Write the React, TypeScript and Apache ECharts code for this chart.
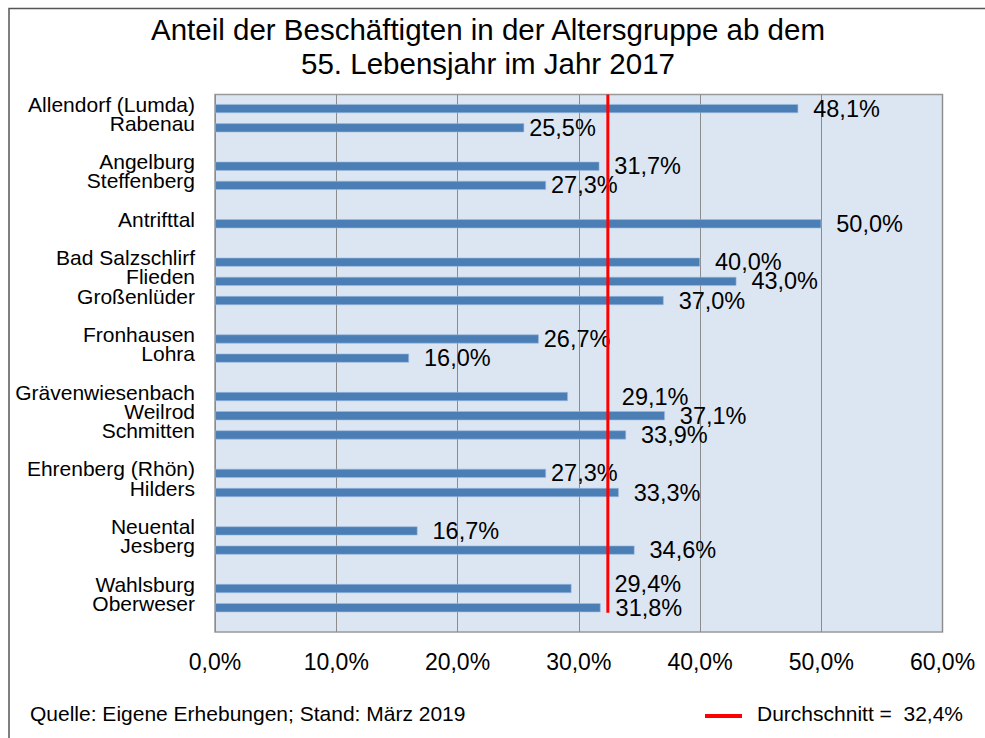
import React, { useEffect, useRef } from "react";
import * as echarts from "echarts";

const TITLE = "Anteil der Beschäftigten in der Altersgruppe ab dem\n55. Lebensjahr im Jahr 2017";
const SOURCE = "Quelle: Eigene Erhebungen; Stand: März 2019";

// "" marks an empty spacer row between groups
const categories: string[] = [
  "Allendorf (Lumda)", "Rabenau", "",
  "Angelburg", "Steffenberg", "",
  "Antrifttal", "",
  "Bad Salzschlirf", "Flieden", "Großenlüder", "",
  "Fronhausen", "Lohra", "",
  "Grävenwiesenbach", "Weilrod", "Schmitten", "",
  "Ehrenberg (Rhön)", "Hilders", "",
  "Neuental", "Jesberg", "",
  "Wahlsburg", "Oberweser", "",
];

const shares: (number | null)[] = [
  48.1, 25.5, null,
  31.7, 27.3, null,
  50.0, null,
  40.0, 43.0, 37.0, null,
  26.7, 16.0, null,
  29.1, 37.1, 33.9, null,
  27.3, 33.3, null,
  16.7, 34.6, null,
  29.4, 31.8, null,
];

const average = 32.4;
const xTicks = { min: 0, max: 60, interval: 10 };

// label placement tweaks (style only)
const labelTweaks: Record<string, { distance: number; offset?: number[] }> = {
  Rabenau: { distance: 5 },
  Steffenberg: { distance: 5 },
  Fronhausen: { distance: 5 },
  "Ehrenberg (Rhön)": { distance: 5 },
  Grävenwiesenbach: { distance: 54 },
  Wahlsburg: { distance: 43, offset: [0, -5] },
};

const FONT = "'Liberation Sans', Arial, sans-serif";
const fmt = (v: number) => v.toFixed(1).replace(".", ",") + "%";

export default function App() {
  const ref = useRef<HTMLDivElement>(null);
  useEffect(() => {
    if (!ref.current) return;
    const chart = echarts.init(ref.current, null, { renderer: "svg" });
    const barData = shares.map((v, i) => {
      if (v === null) return "-";
      const t = labelTweaks[categories[i]];
      return t ? { value: v, label: { ...t } } : { value: v };
    });
    const lastIdx = shares.length - 1;
    chart.setOption({
      animation: false,
      backgroundColor: "#ffffff",
      textStyle: { fontFamily: FONT },
      title: {
        text: TITLE,
        left: 483,
        textAlign: "center",
        top: 7,
        textStyle: { fontSize: 29.5, fontWeight: "normal", color: "#000", lineHeight: 34, fontFamily: FONT },
      },
      grid: {
        left: 215,
        top: 94.5,
        right: 42.5,
        bottom: 106,
        show: true,
        backgroundColor: "#dce6f2",
        borderColor: "#999999",
        borderWidth: 1.5,
        containLabel: false,
      },
      xAxis: {
        type: "value",
        min: xTicks.min,
        max: xTicks.max,
        interval: xTicks.interval,
        axisLine: { show: false },
        axisTick: { show: false },
        splitLine: { lineStyle: { color: "#8c8c8c", width: 1 } },
        axisLabel: { formatter: (v: number) => fmt(v), fontSize: 23, color: "#000", margin: 18, fontFamily: FONT },
      },
      yAxis: [
        {
          type: "category",
          data: categories,
          inverse: true,
          axisLine: { show: false },
          axisTick: { show: false },
          splitLine: { show: false },
          axisLabel: { fontSize: 21, color: "#000", margin: 20, interval: 0, fontFamily: FONT },
        },
        {
          type: "value",
          min: 0,
          max: categories.length,
          inverse: true,
          show: false,
        },
      ],
      series: [
        {
          type: "bar",
          name: "spacer",
          data: shares.map(() => "-"),
          barWidth: 9,
          barGap: "0%",
          silent: true,
        },
        {
          type: "bar",
          name: "Anteil",
          data: barData,
          barWidth: 9,
          barGap: "0%",
          itemStyle: { color: "#4a7eb4", borderColor: "#9dbbe0", borderWidth: 0.6 },
          label: {
            show: true,
            position: "right",
            distance: 15,
            formatter: (p: any) => fmt(p.value),
            fontSize: 23.5,
            color: "#000",
            fontFamily: FONT,
          },
        },
        {
          type: "line",
          name: "Durchschnitt",
          yAxisIndex: 1,
          data: [[average, 0], [average, lastIdx]],
          symbol: "none",
          lineStyle: { color: "#ff0000", width: 3 },
          z: 5,
        },
      ],
      graphic: [
        {
          type: "rect",
          shape: { x: 9, y: 8.5, width: 1200, height: 1000 },
          style: { fill: "none", stroke: "#555555", lineWidth: 1.5 },
          silent: true,
        },
        {
          type: "text",
          left: 30,
          top: 703,
          style: { text: SOURCE, fontSize: 21, fill: "#000", fontFamily: FONT },
        },
        {
          type: "line",
          shape: { x1: 705, y1: 716, x2: 742, y2: 716 },
          style: { stroke: "#ff0000", lineWidth: 4 },
        },
        {
          type: "text",
          left: 757,
          top: 703,
          style: { text: "Durchschnitt =  " + fmt(average), fontSize: 21, fill: "#000", fontFamily: FONT },
        },
      ],
    });
    return () => chart.dispose();
  }, []);
  return <div ref={ref} style={{ position: "absolute", left: 0, top: 0, width: 985, height: 738 }} />;
}
